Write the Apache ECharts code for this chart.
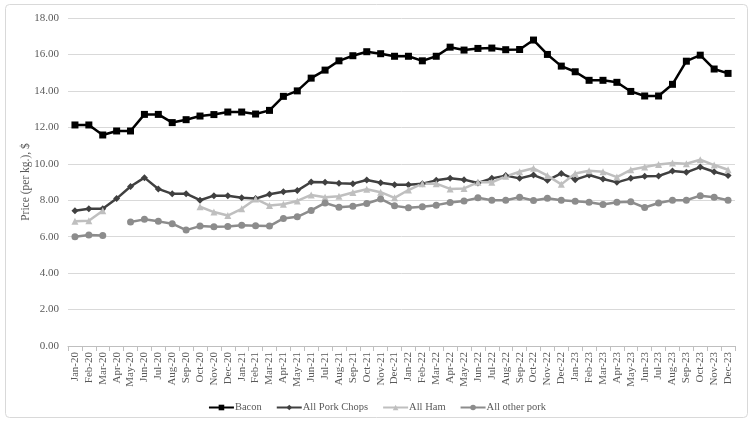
<!DOCTYPE html>
<html>
<head>
<meta charset="utf-8">
<script src="https://cdn.jsdelivr.net/npm/echarts@6/dist/echarts.min.js"></script>
<style>
  html, body { margin: 0; padding: 0; background: #fff; }
  #chart { width: 754px; height: 423px; }
</style>
</head>
<body>
<div id="chart"></div>
<script>
const months = [
  'Jan-20', 'Feb-20', 'Mar-20', 'Apr-20', 'May-20', 'Jun-20', 'Jul-20', 'Aug-20', 'Sep-20', 'Oct-20', 'Nov-20', 'Dec-20',
  'Jan-21', 'Feb-21', 'Mar-21', 'Apr-21', 'May-21', 'Jun-21', 'Jul-21', 'Aug-21', 'Sep-21', 'Oct-21', 'Nov-21', 'Dec-21',
  'Jan-22', 'Feb-22', 'Mar-22', 'Apr-22', 'May-22', 'Jun-22', 'Jul-22', 'Aug-22', 'Sep-22', 'Oct-22', 'Nov-22', 'Dec-22',
  'Jan-23', 'Feb-23', 'Mar-23', 'Apr-23', 'May-23', 'Jun-23', 'Jul-23', 'Aug-23', 'Sep-23', 'Oct-23', 'Nov-23', 'Dec-23'
]

const bacon = [
  12.13, 12.13, 11.58, 11.80, 11.80, 12.71, 12.71, 12.26, 12.42, 12.62, 12.70, 12.84,
  12.84, 12.73, 12.93, 13.70, 14.00, 14.70, 15.14, 15.65, 15.93, 16.15, 16.04, 15.90,
  15.90, 15.65, 15.90, 16.40, 16.24, 16.33, 16.35, 16.26, 16.27, 16.79, 16.00, 15.36,
  15.05, 14.58, 14.58, 14.47, 13.97, 13.72, 13.72, 14.36, 15.63, 15.96, 15.20, 14.96
]

const porkChops = [
  7.42, 7.53, 7.53, 8.09, 8.75, 9.24, 8.62, 8.35, 8.36, 8.00, 8.25, 8.24,
  8.13, 8.09, 8.33, 8.47, 8.53, 9.00, 8.98, 8.93, 8.91, 9.11, 8.96, 8.85,
  8.85, 8.91, 9.09, 9.20, 9.13, 8.95, 9.20, 9.35, 9.20, 9.38, 9.09, 9.47,
  9.13, 9.38, 9.16, 8.98, 9.20, 9.31, 9.33, 9.60, 9.53, 9.82, 9.56, 9.35
]

const ham = [
  6.84, 6.87, 7.42, null, null, null, null, null, null, 7.64, 7.35, 7.16,
  7.53, 8.07, 7.71, 7.78, 7.96, 8.29, 8.16, 8.22, 8.42, 8.60, 8.44, 8.13,
  8.56, 8.91, 8.91, 8.62, 8.65, 8.98, 8.98, 9.31, 9.56, 9.75, 9.35, 8.87,
  9.47, 9.62, 9.56, 9.27, 9.67, 9.82, 9.96, 10.04, 10.00, 10.22, 9.93, 9.67
]

const otherPork = [
  6.00, 6.09, 6.07, null, 6.80, 6.95, 6.84, 6.71, 6.36, 6.58, 6.55, 6.56,
  6.62, 6.60, 6.58, 7.00, 7.09, 7.44, 7.85, 7.62, 7.67, 7.82, 8.07, 7.69,
  7.59, 7.64, 7.73, 7.87, 7.96, 8.13, 8.00, 8.00, 8.16, 7.98, 8.11, 8.00,
  7.94, 7.89, 7.76, 7.89, 7.91, 7.60, 7.85, 8.00, 8.00, 8.25, 8.16, 8.00
]

const serif = '"Liberation Serif", "DejaVu Serif", serif'
const textColor = '#595959'

function line(name, data, color, symbol, size) {
  return {
    name: name,
    type: 'line',
    data: data,
    connectNulls: false,
    symbol: symbol,
    symbolSize: size,
    showAllSymbol: true,
    lineStyle: { color: color, width: 2.5 },
    itemStyle: { color: color },
    emphasis: { disabled: true },
    animation: false
  }
}

const chart = echarts.init(document.getElementById('chart'))
chart.setOption({
  backgroundColor: '#fff',
  graphic: [{
    type: 'rect',
    shape: { x: 5.5, y: 4.5, width: 742, height: 413, r: 4 },
    style: { fill: 'none', stroke: '#d9d9d9', lineWidth: 1 },
    silent: true
  }],
  grid: {
    left: 68,
    right: 19,
    top: 18,
    bottom: 77
  },
  legend: {
    top: 397,
    left: 'center',
    itemGap: 14,
    itemWidth: 25,
    itemHeight: 7,
    textStyle: { fontFamily: serif, fontSize: 10.5, color: textColor, padding: [0, 0, 0, -4] },
    data: ['Bacon', 'All Pork Chops', 'All Ham', 'All other pork']
  },
  xAxis: {
    type: 'category',
    data: months,
    boundaryGap: true,
    axisLine: { lineStyle: { color: '#bfbfbf', width: 1 } },
    axisTick: { show: true, alignWithLabel: false, interval: 0, length: 5, lineStyle: { color: '#bfbfbf' } },
    axisLabel: {
      interval: 0,
      rotate: 90,
      margin: 6,
      fontFamily: serif,
      fontSize: 11,
      color: textColor
    }
  },
  yAxis: {
    type: 'value',
    min: 0,
    max: 18,
    interval: 2,
    name: 'Price (per kg.), $',
    nameLocation: 'middle',
    nameGap: 36,
    nameMoveOverlap: false,
    nameTextStyle: { fontFamily: serif, fontSize: 11.5, color: textColor },
    axisLine: { show: false },
    axisTick: { show: false },
    axisLabel: {
      margin: 9,
      fontFamily: serif,
      fontSize: 11,
      color: textColor,
      formatter: v => v.toFixed(2)
    },
    splitLine: { lineStyle: { color: '#d9d9d9', width: 1 } }
  },
  series: [
    line('Bacon', bacon, '#000000', 'rect', 7),
    line('All Pork Chops', porkChops, '#404040', 'diamond', 7),
    line('All Ham', ham, '#bfbfbf', 'triangle', 7),
    line('All other pork', otherPork, '#8c8c8c', 'circle', 7)
  ]
})
</script>
</body>
</html>
